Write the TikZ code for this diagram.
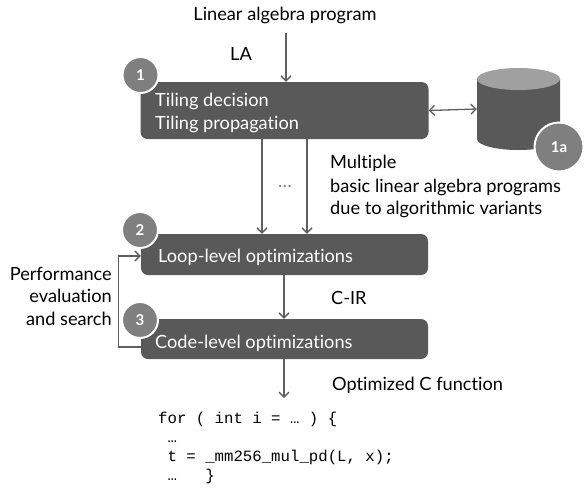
\documentclass[tikz,border=0pt]{standalone}
\usepackage{fontspec}
\setmainfont{Lato}[Ligatures={NoCommon,NoRare,NoDiscretionary}]
\newfontfamily\codefont{Liberation Mono}
\usetikzlibrary{arrows.meta}
\definecolor{boxgray}{HTML}{595959}
\definecolor{circgray}{HTML}{7F7F7F}
\definecolor{cyltop}{HTML}{A0A0A0}
\definecolor{arrgray}{HTML}{5F5F5F}
\begin{document}
\begin{tikzpicture}[x=1pt,y=-1pt,
  box/.style={fill=boxgray, rounded corners=7pt, inner sep=0pt, draw=none},
  circ/.style={circle, fill=circgray, draw=white, line width=2pt, inner sep=0pt,
    text=white, font=\fontsize{15}{17}\selectfont\bfseries},
  lbl/.style={inner sep=0pt, font=\fontsize{18.2}{21}\selectfont, text=black},
  boxtxt/.style={lbl, text=white},
  code/.style={inner sep=0pt, anchor=base west, font=\codefont\fontsize{15.7}{19}\selectfont},
  arr/.style={draw=arrgray, line width=1.3pt, -{Straight Barb[length=5pt,width=10pt]}},
  arrr/.style={draw=arrgray, line width=1.3pt, {Straight Barb[length=5pt,width=10pt]}-{Straight Barb[length=5pt,width=10pt]}}
]
\useasboundingbox (0,0) rectangle (584,488);
\fill[white] (0,0) rectangle (584,488);

% boxes
\node[box, minimum width=288pt, minimum height=57pt] (b1) at (284.5,110.5) {};
\node[box, minimum width=287pt, minimum height=41pt] (b2) at (284.5,254.5) {};
\node[box, minimum width=287pt, minimum height=40pt] (b3) at (284.5,339) {};

% database
\node[inner sep=0pt, minimum width=83pt, minimum height=82pt] (db) at (518.5,109) {};
\fill[boxgray] (477,79) -- (477,139) arc[start angle=180, end angle=0, x radius=41.5, y radius=11] -- (560,79) -- cycle;
\fill[cyltop] (518.5,79) ellipse[x radius=41.5, y radius=11];

% step circles
\node[circ, minimum size=36pt] (n1) at (140.5,75) {1};
\node[circ, minimum size=36pt] (n2) at (140,230) {2};
\node[circ, minimum size=36pt] (n3) at (140,320) {3};
\node[circ, minimum size=49pt] (n1a) at (559,147) {1a};

% texts
\node[lbl, anchor=base] (src) at (285,20) {Linear algebra program};
\node[lbl, anchor=base west] (la) at (230,60) {LA};
\node[boxtxt, anchor=base west] (t1a) at (155,106) {Tiling decision};
\node[boxtxt, anchor=base west] (t1b) at (155,129) {Tiling propagation};
\node[lbl, text=circgray] (dots) at (285,186) {\dots};
\node[lbl, anchor=base west] (m1) at (330,168) {Multiple};
\node[lbl, anchor=base west] (m2) at (330,192) {basic linear algebra programs};
\node[lbl, anchor=base west] (m3) at (330,214) {due to algorithmic variants};
\node[boxtxt, anchor=base west] (t2) at (158,262) {Loop-level optimizations};
\node[lbl, anchor=base west] (cir) at (331,304) {C-IR};
\node[boxtxt, anchor=base west] (t3) at (155,348) {Code-level optimizations};
\node[lbl, anchor=base west] (ocf) at (332,390) {Optimized C function};
\node[lbl, anchor=base east] (p1) at (112,280) {Performance};
\node[lbl, anchor=base east] (p2) at (112,302.5) {evaluation};
\node[lbl, anchor=base east] (p3) at (112,325) {and search};

% code
\node[code] (c1) at (158,423) {for\ (\ int\ i\ =\ …\ )\ \{};
\node[code] (c2) at (158,442) {\ …};
\node[code] (c3) at (158,461) {\ t\ =\ \_mm256\_mul\_pd(L,\ x);};
\node[code] (c4) at (158,480) {\ …\ \ \ \}};

% connectors
\coordinate (a0) at (286,33);
\draw[arr] (a0) -- (a0 |- b1.north);
\draw[arrr] (b1.east) -- (db.west);
\coordinate (d1) at (262,0);
\coordinate (d2) at (307,0);
\draw[arr] (d1 |- b1.south) -- (d1 |- b2.north);
\draw[arr] (d2 |- b1.south) -- (d2 |- b2.north);
\coordinate (d3) at (284,0);
\draw[arr] (d3 |- b2.south) -- (d3 |- b3.north);
\coordinate (d4) at (284,398);
\draw[arr] (d3 |- b3.south) -- (d4);
\draw[arr] ([yshift=-8pt]b3.west) -- ++(-22,0) |- ([yshift=-1.5pt]b2.west);
\end{tikzpicture}
\end{document}
